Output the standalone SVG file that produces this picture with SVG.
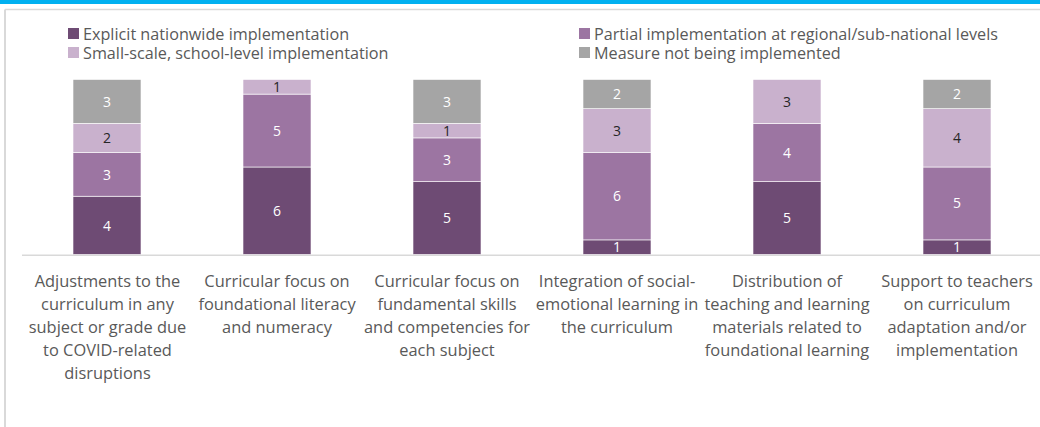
<svg xmlns="http://www.w3.org/2000/svg" width="1040" height="427" viewBox="0 0 1040 427">
<style>
text{font-family:"Open Sans","Liberation Sans",sans-serif;}
.leg{font-size:16.2px;fill:#595959;}
.cat{font-size:16.4px;fill:#595959;text-anchor:middle;}
.v{font-size:14px;text-anchor:middle;fill:#FFFFFF;}
.vd{font-size:14px;text-anchor:middle;fill:#262626;}
.c1{fill:#6E4B74;stroke:#FFFFFF;stroke-width:0.6;}
.c2{fill:#9C75A2;stroke:#FFFFFF;stroke-width:0.6;}
.c3{fill:#C9B1CD;stroke:#FFFFFF;stroke-width:0.6;}
.c4{fill:#A5A5A5;stroke:#FFFFFF;stroke-width:0.6;}
</style>
<rect x="0" y="0" width="1040" height="427" fill="#FFFFFF"/>
<rect x="0" y="0" width="1040" height="4" fill="#00B0F0"/>
<g id="frame">
<line x1="5" y1="9.5" x2="1040" y2="9.5" stroke="#D9D9D9" stroke-width="1.5"/>
<line x1="5" y1="9.5" x2="5" y2="427" stroke="#D9D9D9" stroke-width="2"/>
</g>
<g id="legend">
<rect x="68" y="28" width="11" height="11" fill="#6E4B74"/>
<text class="leg" x="83" y="40">Explicit nationwide implementation</text>
<rect x="579" y="28" width="11" height="11" fill="#9C75A2"/>
<text class="leg" x="594" y="40">Partial implementation at regional/sub-national levels</text>
<rect x="68" y="47" width="11" height="11" fill="#C9B1CD"/>
<text class="leg" x="83" y="59">Small-scale, school-level implementation</text>
<rect x="579" y="47" width="11" height="11" fill="#A5A5A5"/>
<text class="leg" x="594" y="59">Measure not being implemented</text>
</g>
<g id="axis">
<line x1="22" y1="255.2" x2="1040" y2="255.2" stroke="#D9D9D9" stroke-width="1.5"/>
</g>
<g id="bar1">
<rect class="c1" x="73" y="196.2" width="68" height="58.3"/>
<rect class="c2" x="73" y="152.5" width="68" height="43.7"/>
<rect class="c3" x="73" y="123.3" width="68" height="29.2"/>
<rect class="c4" x="73" y="79.5" width="68" height="43.8"/>
<text class="v" x="107" y="230.5">4</text>
<text class="v" x="107" y="179.5">3</text>
<text class="vd" x="107" y="143">2</text>
<text class="v" x="107" y="106.5">3</text>
</g>
<g id="bar2">
<rect class="c1" x="243" y="167" width="68" height="87.5"/>
<rect class="c2" x="243" y="94.1" width="68" height="72.9"/>
<rect class="c3" x="243" y="79.5" width="68" height="14.6"/>
<text class="v" x="277" y="216">6</text>
<text class="v" x="277" y="135.5">5</text>
<text class="vd" x="277" y="91.8">1</text>
</g>
<g id="bar3">
<rect class="c1" x="413" y="181.6" width="68" height="72.9"/>
<rect class="c2" x="413" y="137.9" width="68" height="43.7"/>
<rect class="c3" x="413" y="123.3" width="68" height="14.6"/>
<rect class="c4" x="413" y="79.5" width="68" height="43.8"/>
<text class="v" x="447" y="223">5</text>
<text class="v" x="447" y="165">3</text>
<text class="vd" x="447" y="135.5">1</text>
<text class="v" x="447" y="106.5">3</text>
</g>
<g id="bar4">
<rect class="c1" x="583" y="239.9" width="68" height="14.6"/>
<rect class="c2" x="583" y="152.5" width="68" height="87.4"/>
<rect class="c3" x="583" y="108.7" width="68" height="43.8"/>
<rect class="c4" x="583" y="79.5" width="68" height="29.2"/>
<text class="v" x="617" y="252">1</text>
<text class="v" x="617" y="201">6</text>
<text class="vd" x="617" y="135.5">3</text>
<text class="v" x="617" y="99">2</text>
</g>
<g id="bar5">
<rect class="c1" x="753" y="181.6" width="68" height="72.9"/>
<rect class="c2" x="753" y="123.3" width="68" height="58.3"/>
<rect class="c3" x="753" y="79.5" width="68" height="43.8"/>
<text class="v" x="787" y="223">5</text>
<text class="v" x="787" y="158">4</text>
<text class="vd" x="787" y="106.5">3</text>
</g>
<g id="bar6">
<rect class="c1" x="923" y="239.9" width="68" height="14.6"/>
<rect class="c2" x="923" y="167" width="68" height="72.9"/>
<rect class="c3" x="923" y="108.7" width="68" height="58.3"/>
<rect class="c4" x="923" y="79.5" width="68" height="29.2"/>
<text class="v" x="957" y="252">1</text>
<text class="v" x="957" y="208">5</text>
<text class="vd" x="957" y="143">4</text>
<text class="v" x="957" y="99">2</text>
</g>
<g id="labels">
<text class="cat" x="107.5" y="287">Adjustments to the</text>
<text class="cat" x="107.5" y="310">curriculum in any</text>
<text class="cat" x="107.5" y="333">subject or grade due</text>
<text class="cat" x="107.5" y="356">to COVID-related</text>
<text class="cat" x="107.5" y="379">disruptions</text>
<text class="cat" x="277" y="287">Curricular focus on</text>
<text class="cat" x="277" y="310">foundational literacy</text>
<text class="cat" x="277" y="333">and numeracy</text>
<text class="cat" x="447" y="287">Curricular focus on</text>
<text class="cat" x="447" y="310">fundamental skills</text>
<text class="cat" x="447" y="333">and competencies for</text>
<text class="cat" x="447" y="356">each subject</text>
<text class="cat" x="617" y="287">Integration of social-</text>
<text class="cat" x="617" y="310">emotional learning in</text>
<text class="cat" x="617" y="333">the curriculum</text>
<text class="cat" x="787" y="287">Distribution of</text>
<text class="cat" x="787" y="310">teaching and learning</text>
<text class="cat" x="787" y="333">materials related to</text>
<text class="cat" x="787" y="356">foundational learning</text>
<text class="cat" x="957" y="287">Support to teachers</text>
<text class="cat" x="957" y="310">on curriculum</text>
<text class="cat" x="957" y="333">adaptation and/or</text>
<text class="cat" x="957" y="356">implementation</text>
</g>
</svg>
